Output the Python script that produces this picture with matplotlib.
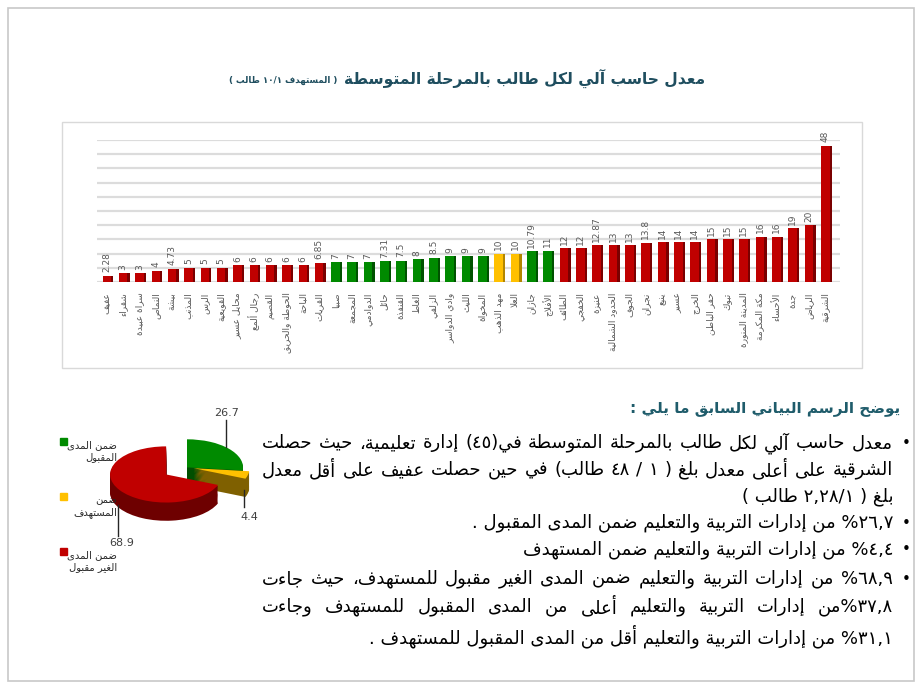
import re
import numpy as np
import matplotlib
matplotlib.use('Agg')
import matplotlib.pyplot as plt
from matplotlib.patches import Rectangle

# ----------------------------------------------------
# Data
# ----------------------------------------------------
regions = ['عفيف', 'شقراء', 'سراة عبيدة', 'النماص', 'بيشة', 'المذنب', 'الرس', 'القويعية',
           'محايل عسير', 'رجال ألمع', 'القصيم', 'الحوطة والحريق', 'الباحة', 'القريات',
           'صبيا', 'المجمعة', 'الدوادمي', 'حائل', 'القنفذة', 'الغاط', 'الزلفي',
           'وادي الدواسر', 'الليث', 'المخواة', 'مهد الذهب', 'العلا', 'جازان', 'الأفلاج',
           'الطائف', 'الخفجي', 'عنيزة', 'الحدود الشمالية', 'الجوف', 'نجران', 'ينبع',
           'عسير', 'الخرج', 'حفر الباطن', 'تبوك', 'المدينة المنورة', 'مكة المكرمة',
           'الأحساء', 'جدة', 'الرياض', 'الشرقية']
rates = [2.28, 3, 3, 4, 4.73, 5, 5, 5, 6, 6, 6, 6, 6, 6.85,
         7, 7, 7, 7.31, 7.5, 8, 8.5, 9, 9, 9, 10, 10, 10.79, 11,
         12, 12, 12.87, 13, 13, 13.8, 14, 14, 14, 15, 15, 15, 16, 16, 19, 20, 48]
# r = outside acceptable range, g = acceptable range, y = on target
status = ['r'] * 14 + ['g'] * 10 + ['y'] * 2 + ['g'] * 2 + ['r'] * 17

pie_values = [26.7, 4.4, 68.9]
pie_names = [['ضمن المدى', 'المقبول'], ['ضمن', 'المستهدف'], ['ضمن المدى', 'الغير مقبول']]

title_main = 'معدل حاسب آلي لكل طالب بالمرحلة المتوسطة'
title_note = '( المستهدف ١٠/١ طالب )'
heading = 'يوضح الرسم البياني السابق ما يلي :'
# (line, has bullet, justified)
body = [
    ('معدل حاسب آلي لكل طالب  بالمرحلة المتوسطة في(٤٥) إدارة تعليمية، حيث حصلت', True, True),
    ('الشرقية على أعلى معدل بلغ ( ١ / ٤٨ طالب) في حين حصلت عفيف على أقل معدل', False, True),
    ('بلغ ( ٢,٢٨/١ طالب )', False, False),
    ('٢٦,٧% من إدارات التربية والتعليم ضمن المدى المقبول .', True, False),
    ('٤,٤% من إدارات التربية والتعليم ضمن المستهدف', True, False),
    ('٦٨,٩% من إدارات التربية والتعليم ضمن المدى الغير مقبول للمستهدف، حيث جاءت', True, True),
    ('٣٧,٨%من إدارات التربية والتعليم أعلى من المدى المقبول للمستهدف وجاءت', False, True),
    ('٣١,١% من إدارات التربية والتعليم أقل من المدى المقبول للمستهدف .', False, False),
]

# ----------------------------------------------------
# Minimal Arabic shaping + right-to-left ordering
# ----------------------------------------------------
FORMS = {
    'ء': (0xFE80, 1), 'آ': (0xFE81, 2), 'أ': (0xFE83, 2), 'ؤ': (0xFE85, 2), 'إ': (0xFE87, 2),
    'ئ': (0xFE89, 4), 'ا': (0xFE8D, 2), 'ب': (0xFE8F, 4), 'ة': (0xFE93, 2), 'ت': (0xFE95, 4),
    'ث': (0xFE99, 4), 'ج': (0xFE9D, 4), 'ح': (0xFEA1, 4), 'خ': (0xFEA5, 4), 'د': (0xFEA9, 2),
    'ذ': (0xFEAB, 2), 'ر': (0xFEAD, 2), 'ز': (0xFEAF, 2), 'س': (0xFEB1, 4), 'ش': (0xFEB5, 4),
    'ص': (0xFEB9, 4), 'ض': (0xFEBD, 4), 'ط': (0xFEC1, 4), 'ظ': (0xFEC5, 4), 'ع': (0xFEC9, 4),
    'غ': (0xFECD, 4), 'ف': (0xFED1, 4), 'ق': (0xFED5, 4), 'ك': (0xFED9, 4), 'ل': (0xFEDD, 4),
    'م': (0xFEE1, 4), 'ن': (0xFEE5, 4), 'ه': (0xFEE9, 4), 'و': (0xFEED, 2), 'ى': (0xFEEF, 2),
    'ي': (0xFEF1, 4),
}
LAM_ALEF = {'آ': 0xFEF5, 'أ': 0xFEF7, 'إ': 0xFEF9, 'ا': 0xFEFB}
MIRROR = {'(': ')', ')': '('}


def shape(text):
    units = []
    i = 0
    while i < len(text):
        c = text[i]
        if c == 'ل' and i + 1 < len(text) and text[i + 1] in LAM_ALEF:
            units.append(('LA', text[i + 1]))
            i += 2
        else:
            units.append(('C', c))
            i += 1

    def joins_next(u):
        return u[0] == 'C' and u[1] in FORMS and FORMS[u[1]][1] == 4

    def joins_prev(u):
        return u[0] == 'LA' or (u[1] in FORMS and FORMS[u[1]][1] >= 2)

    out = []
    for k, u in enumerate(units):
        prev = units[k - 1] if k > 0 else None
        nxt = units[k + 1] if k + 1 < len(units) else None
        p = prev is not None and joins_next(prev)
        if u[0] == 'LA':
            out.append(chr(LAM_ALEF[u[1]] + (1 if p else 0)))
            continue
        c = u[1]
        if c not in FORMS:
            out.append(c)
            continue
        start, n = FORMS[c]
        q = n == 4 and nxt is not None and joins_prev(nxt)
        if n == 1:
            g = start
        elif p and q:
            g = start + 3
        elif p:
            g = start + 1
        elif q:
            g = start + 2
        else:
            g = start
        out.append(chr(g))
    return ''.join(out)


def ar(text):
    tokens = re.findall(r'[0-9\u0660-\u0669]+(?:[.,/][0-9\u0660-\u0669]+)*|.', shape(text))
    return ''.join(t if len(t) > 1 or t.isdigit() else MIRROR.get(t, t) for t in reversed(tokens))


# ----------------------------------------------------
# Figure / page
# ----------------------------------------------------
W, H = 922, 683
plt.rcParams['font.family'] = ['DejaVu Sans']
fig = plt.figure(figsize=(W / 100, H / 100), dpi=100)
renderer = fig.canvas.get_renderer()


def fx(x):
    return x / W


def fy(y):
    return 1 - y / H


fig.patches.append(Rectangle((fx(8), fy(681)), fx(906), 673 / H, transform=fig.transFigure,
                             fill=False, ec='#C8C8C8', lw=1.2))
fig.patches.append(Rectangle((fx(62), fy(368)), fx(800), 246 / H, transform=fig.transFigure,
                             fill=False, ec='#D9D9D9', lw=1))

# title: main part, then the smaller target note just to its left
title_color = '#1F4E5F'
t_main = fig.text(fx(705), fy(78), ar(title_main), ha='right', va='center', fontsize=11.2,
                  fontweight='bold', color=title_color)
main_left = t_main.get_window_extent(renderer).x0
fig.text((main_left - 7) / W, fy(80), ar(title_note), ha='right', va='center', fontsize=6.3,
         fontweight='bold', color=title_color)

# ----------------------------------------------------
# Bar chart
# ----------------------------------------------------
face = {'r': '#C00000', 'g': '#008A00', 'y': '#FFC000'}
side = {'r': '#7A0000', 'g': '#005200', 'y': '#B38600'}
x = np.arange(len(rates))

ax = fig.add_axes([fx(97), fy(282), fx(743), 142 / H])
ax.bar(x + 0.12, rates, width=0.58, color=[side[s] for s in status], zorder=2)
ax.bar(x, rates, width=0.52, color=[face[s] for s in status], zorder=3)
for xi, v in zip(x, rates):
    ax.text(xi, v + 1.2, f'{v:g}', rotation=90, ha='center', va='bottom',
            fontsize=6.5, color='#595959')

ax.set_xlim(-0.6, len(rates) - 0.1)
ax.set_ylim(0, 50)
ax.set_yticks(range(0, 51, 5))
ax.grid(axis='y', color='#DCDCDC', lw=1.6, zorder=0)
ax.set_axisbelow(True)
ax.set_xticks(x)
ax.set_xticklabels([ar(r) for r in regions], rotation=90, fontsize=6.5, color='#595959',
                   va='top', ha='center')
ax.tick_params(left=False, labelleft=False, bottom=False, pad=4)
for s in ax.spines.values():
    s.set_visible(False)

# ----------------------------------------------------
# 3D-looking pie
# ----------------------------------------------------
pie_top = ['#008A00', '#FFC000', '#C00000']
pie_side = ['#004F00', '#7F6000', '#6E0000']
explode = [0, 0.12, 0.45]
depth = 0.65

ax2 = fig.add_axes([fx(75), fy(546), fx(196), 146 / H])
for d in np.linspace(depth, 0, 16, endpoint=False):
    ax2.pie(pie_values, colors=pie_side, explode=explode, startangle=90, counterclock=False,
            center=(0, -d), radius=1, wedgeprops=dict(linewidth=0))
ax2.pie(pie_values, colors=pie_top, explode=explode, startangle=90, counterclock=False,
        center=(0, 0), radius=1, wedgeprops=dict(linewidth=0))
ax2.set_aspect('auto')
ax2.set_xlim(-2, 1.5)
ax2.set_ylim(-2.8, 2.4)
ax2.axis('off')

label_pos = [(0.70, 1.95, 0.70, 1.7, 0.72), (1.12, -1.75, 1.02, -0.8, -1.4),
             (-1.16, -2.68, -1.23, -1.35, -2.45)]
for v, (tx, ty, lx, ly0, ly1) in zip(pie_values, label_pos):
    ax2.plot([lx, lx], [ly0, ly1], color='#262626', lw=1)
    ax2.text(tx, ty, f'{v:g}', ha='center', va='center', fontsize=8, color='#404040')

for i, (names, c) in enumerate(zip(pie_names, pie_top)):
    y0 = 440 + i * 55
    fig.patches.append(Rectangle((fx(60), fy(y0 + 5)), fx(7), 7 / H, transform=fig.transFigure,
                                 color=c))
    fig.text(fx(117), fy(y0), '\n'.join(ar(n) for n in names), ha='right', va='top',
             fontsize=7.2, color='#262626', multialignment='right', linespacing=1.3)

# ----------------------------------------------------
# Commentary text (right aligned, some lines justified)
# ----------------------------------------------------
fig.text(fx(900), fy(408), ar(heading), ha='right', va='center', fontsize=11,
         fontweight='bold', color='#1F5C6B')

left_edge, right_edge = 262, 893
line_y = [443, 470, 497, 523, 550, 579, 607, 636]
body_size = 13
for (line, bullet, justify), yy in zip(body, line_y):
    visual = ar(line)
    if justify:
        words = [w for w in visual.split(' ') if w]
        items = [fig.text(0, fy(yy), w, ha='left', va='center', fontsize=body_size,
                          color='black') for w in words]
        widths = [t.get_window_extent(renderer).width for t in items]
        gap = (right_edge - left_edge - sum(widths)) / (len(words) - 1)
        pos = left_edge
        for t, w in zip(items, widths):
            t.set_x(fx(pos))
            pos += w + gap
    else:
        fig.text(fx(right_edge), fy(yy), visual, ha='right', va='center', fontsize=body_size,
                 color='black')
    if bullet:
        fig.text(fx(906), fy(yy), '•', ha='center', va='center', fontsize=11, color='black')

fig.savefig('out.png', dpi=100)
